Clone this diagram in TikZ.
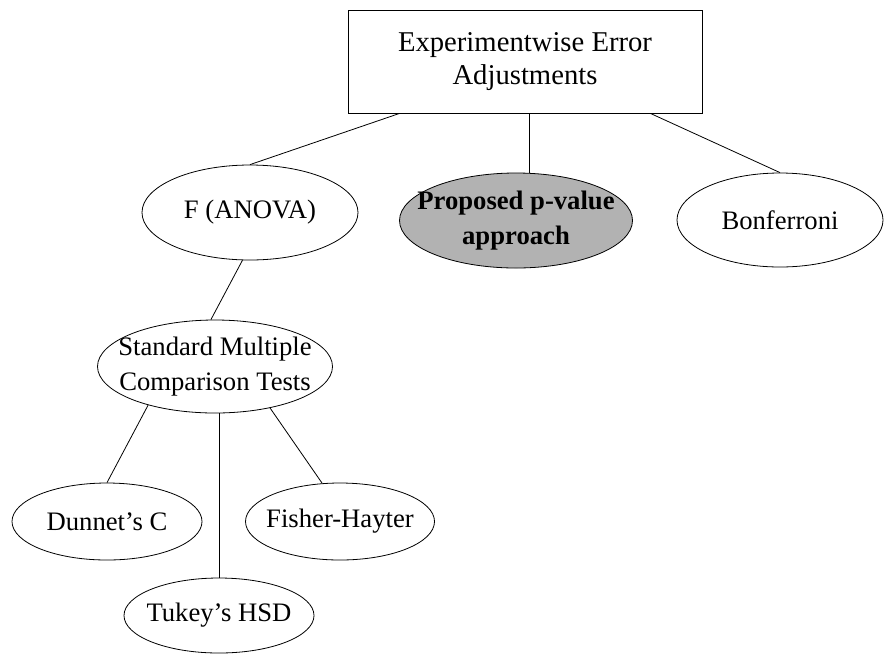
\documentclass[tikz,border=0pt]{standalone}
\usepackage{fontspec}
\setmainfont{Liberation Serif}
\usepackage{tikz}
\usetikzlibrary{shapes.geometric,calc}

\tikzset{
  oval/.style={ellipse, draw, line width=0.6pt, inner sep=0pt},
  txt/.style={align=center, font=\fontsize{20}{26}\selectfont}
}

\begin{document}
\begin{tikzpicture}[x=0.75pt, y=-0.75pt, line width=0.6pt]

% Page frame
\useasboundingbox (0,0) rectangle (884,654);

% Root box
\node[draw, rectangle, inner sep=0pt, minimum width=265.5pt, minimum height=77.25pt] (root) at (525,61.5) {};
\node[txt, font=\fontsize{21.5}{25}\selectfont] at (root) {Experimentwise Error\\Adjustments};

% First level (F, proposed approach, Bonferroni)
\node[oval, minimum width=162pt, minimum height=71.25pt] (anova) at (250,212.5) {};
\node[txt] at (anova) {F (ANOVA)};

\node[oval, fill=gray!60, minimum width=174.75pt, minimum height=71.25pt] (pval) at (516,220.5) {};
\node[txt, font=\fontsize{20}{26}\selectfont\bfseries] at (pval) {Proposed p-value\\approach};

\node[oval, minimum width=154.5pt, minimum height=70.5pt] (bonf) at (780,220) {};
\node[txt] at (bonf) {Bonferroni};

% Standard tests below F
\node[oval, minimum width=176.25pt, minimum height=69.75pt] (smct) at (215,366.5) {};
\node[txt] at (smct) {Standard Multiple\\Comparison Tests};

% Leaves
\node[oval, minimum width=142.5pt, minimum height=57.75pt] (dunnet) at (107,521.5) {};
\node[txt] at (dunnet) {Dunnet’s C};

\node[oval, minimum width=141.75pt, minimum height=57.75pt] (fisher) at (340,521.5) {};
\node[txt] at (fisher) {Fisher-Hayter};

\node[oval, minimum width=142.5pt, minimum height=56.25pt] (tukey) at (219,615.5) {};
\node[txt] at (tukey) {Tukey’s HSD};

% Connectors
\draw ($(root.south west)+(52,0)$) -- (anova.north);
\draw ($(root.south)+(4,0)$) coordinate (mid) -- (mid |- pval.north);
\draw ($(root.south east)+(-52,0)$) -- (bonf.north);
\draw (anova.261) -- (smct.95);
\draw (smct.210) -- (dunnet.north);
\draw (tukey.north |- smct.south) -- (tukey.north);
\draw (smct.323) -- (fisher.115);

\end{tikzpicture}
\end{document}
